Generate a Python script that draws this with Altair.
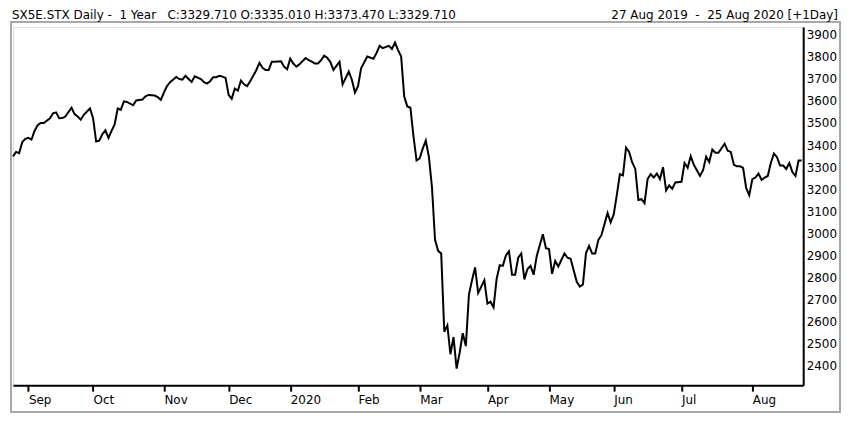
import altair as alt
import pandas as pd

# trading-session number (0 = 27 Aug 2019) and daily close of SX5E
session = [
    0, 1, 2, 3, 4, 5, 6, 7, 8, 9, 10, 12, 13, 14, 15, 16, 17, 19, 20, 21,
    22, 23, 25, 26, 27, 28, 29, 30, 31, 32, 33, 34, 35, 36, 37, 39, 40, 42, 43, 44,
    46, 47, 48, 49, 50, 51, 53, 54, 55, 56, 57, 58, 59, 61, 62, 63, 64, 65, 66, 67,
    68, 69, 70, 71, 72, 73, 74, 75, 76, 77, 78, 79, 80, 81, 82, 83, 84, 85, 87, 88,
    89, 90, 91, 92, 93, 95, 96, 97, 98, 99, 100, 101, 102, 103, 104, 106, 107, 109, 110, 111,
    112, 113, 115, 117, 118, 119, 120, 122, 123, 124, 125, 126, 127, 128, 129, 130, 131, 132, 133, 134,
    135, 136, 137, 138, 139, 140, 141, 142, 143, 144, 145, 146, 147, 148, 149, 150, 151, 153, 154, 155,
    156, 157, 158, 159, 160, 161, 162, 163, 164, 165, 166, 167, 168, 169, 170, 172, 173, 174, 175, 176,
    177, 179, 180, 181, 183, 184, 185, 186, 187, 188, 189, 190, 191, 192, 193, 194, 195, 196, 197, 198,
    199, 200, 201, 202, 203, 204, 205, 206, 207, 208, 209, 210, 211, 212, 213, 214, 215, 217, 218, 219,
    220, 221, 223, 224, 225, 226, 227, 228, 229, 231, 232, 233, 234, 235, 236, 237, 238, 239, 240, 241,
    242, 243, 244, 245, 246, 247, 248, 249, 250, 251, 252, 253, 254, 255, 256,
]
close = [
    3348, 3369, 3363, 3413, 3428, 3433, 3425, 3464, 3490, 3500, 3500, 3521, 3544, 3548, 3521, 3522, 3529, 3569, 3540, 3529,
    3515, 3537, 3566, 3522, 3416, 3420, 3449, 3467, 3432, 3464, 3493, 3566, 3559, 3598, 3595, 3580, 3602, 3606, 3621, 3627,
    3624, 3617, 3605, 3638, 3667, 3685, 3708, 3699, 3696, 3714, 3699, 3686, 3711, 3699, 3685, 3678, 3689, 3707, 3707, 3714,
    3710, 3704, 3627, 3609, 3656, 3646, 3692, 3675, 3667, 3689, 3714, 3740, 3772, 3750, 3740, 3740, 3777, 3777, 3779, 3755,
    3743, 3791, 3769, 3755, 3766, 3794, 3784, 3778, 3769, 3769, 3784, 3805, 3795, 3777, 3740, 3777, 3675, 3733, 3696, 3638,
    3667, 3747, 3801, 3791, 3816, 3849, 3839, 3849, 3835, 3864, 3830, 3801, 3620, 3575, 3569, 3440, 3330, 3340, 3384, 3420,
    3347, 3210, 2971, 2921, 2909, 2555, 2584, 2453, 2531, 2388, 2461, 2548, 2490, 2723, 2788, 2846, 2730, 2788, 2682, 2691,
    2665, 2795, 2856, 2853, 2900, 2919, 2813, 2813, 2890, 2909, 2792, 2839, 2853, 2813, 2897, 2996, 2933, 2929, 2817, 2875,
    2850, 2909, 2890, 2885, 2781, 2759, 2769, 2911, 2944, 2909, 2909, 2970, 2992, 3042, 3093, 3050, 3086, 3173, 3268, 3263,
    3388, 3369, 3321, 3292, 3151, 3155, 3137, 3246, 3268, 3253, 3271, 3246, 3300, 3195, 3217, 3202, 3231, 3234, 3319, 3297,
    3350, 3311, 3260, 3286, 3347, 3323, 3380, 3365, 3365, 3406, 3374, 3369, 3311, 3304, 3304, 3297, 3205, 3173, 3246, 3253,
    3271, 3242, 3253, 3260, 3319, 3362, 3345, 3307, 3307, 3292, 3319, 3278, 3260, 3330, 3330,
]

month_ticks = [5, 26, 49, 70, 90, 112, 132, 154, 174, 195, 217, 240]
month_labels = ["Sep", "Oct", "Nov", "Dec", "2020", "Feb", "Mar", "Apr", "May", "Jun", "Jul", "Aug"]
price_ticks = [2400, 2500, 2600, 2700, 2800, 2900, 3000, 3100, 3200, 3300, 3400, 3500, 3600, 3700, 3800, 3900]

header_left = "SX5E.STX Daily -\u00a0\u00a01 Year\u00a0\u00a0\u00a0C:3329.710 O:3335.010 H:3373.470 L:3329.710"
header_right = "27 Aug 2019\u00a0\u00a0-\u00a0\u00a025 Aug 2020 [+1Day]"

FONT = "DejaVu Sans"
W, H = 794, 360

df = pd.DataFrame({"session": session, "close": close})

label_expr = "{}[indexof({}, datum.value)]".format(
    "[" + ",".join("'%s'" % m for m in month_labels) + "]",
    "[" + ",".join(str(t) for t in month_ticks) + "]",
)

line = (
    alt.Chart(df)
    .mark_line(color="black", strokeWidth=2)
    .encode(
        x=alt.X(
            "session:Q",
            title=None,
            scale=alt.Scale(domain=[0, 256.5], nice=False, zero=False),
            axis=alt.Axis(
                values=month_ticks,
                labelExpr=label_expr,
                grid=False,
                domainColor="black",
                domainWidth=2,
                tickColor="black",
                tickWidth=2,
                tickSize=6,
                labelAlign="left",
                labelFlush=False,
                labelPadding=3,
                labelColor="black",
                labelFont=FONT,
                labelFontSize=12,
            ),
        ),
        y=alt.Y(
            "close:Q",
            title=None,
            scale=alt.Scale(domain=[2313, 3935], nice=False, zero=False),
            axis=alt.Axis(
                orient="right",
                values=price_ticks,
                format="d",
                grid=False,
                ticks=False,
                domainColor="black",
                domainWidth=2,
                labelPadding=3,
                labelColor="black",
                labelFont=FONT,
                labelFontSize=12,
            ),
        ),
    )
)

# light grey panel frame round plot and axes
frame = (
    alt.Chart(pd.DataFrame({"f": [0]}))
    .mark_rect(fill=None, stroke="#a8a8a8", strokeWidth=2)
    .encode(
        x=alt.value(-2),
        x2=alt.value(W + 37),
        y=alt.value(-5),
        y2=alt.value(H + 27),
    )
)

left_title = (
    alt.Chart(pd.DataFrame({"t": [header_left]}))
    .mark_text(align="left", baseline="middle", font=FONT, fontSize=12, color="black")
    .encode(text="t:N", x=alt.value(-1), y=alt.value(-12))
)
right_title = (
    alt.Chart(pd.DataFrame({"t": [header_right]}))
    .mark_text(align="right", baseline="middle", font=FONT, fontSize=12, color="black")
    .encode(text="t:N", x=alt.value(W + 35), y=alt.value(-12))
)

chart = (
    (frame + line + left_title + right_title)
    .properties(width=W, height=H, padding={"left": 1, "top": 0, "right": 1, "bottom": 1})
    .configure_view(strokeWidth=0)
    .configure(background="white")
)

chart.save("out.html", embed_options={"renderer": "svg", "actions": False})
